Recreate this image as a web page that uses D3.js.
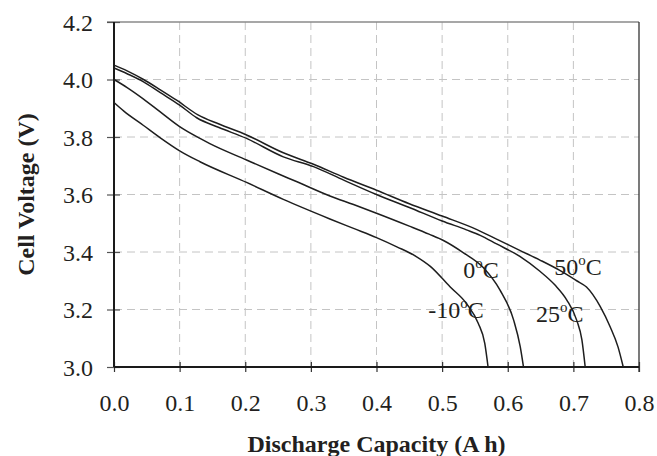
<!DOCTYPE html>
<html><head><meta charset="utf-8">
<script src="https://cdn.jsdelivr.net/npm/d3@7/dist/d3.min.js"></script>
<style>
html,body{margin:0;padding:0;background:#fff;}
svg{display:block;}
text{font-family:"Liberation Serif","Times New Roman",serif;fill:#231f20;}
</style></head>
<body>
<svg id="chart" width="657" height="456"></svg>
<script>
// ---- data ----
const xTicks = [0.0, 0.1, 0.2, 0.3, 0.4, 0.5, 0.6, 0.7, 0.8];
const yTicks = [3.0, 3.2, 3.4, 3.6, 3.8, 4.0, 4.2];

const cap50 = [0, 0.02, 0.045, 0.07, 0.096, 0.128, 0.16, 0.202, 0.258, 0.304, 0.35, 0.40, 0.45, 0.50, 0.553, 0.583, 0.619, 0.649, 0.68, 0.705, 0.72, 0.741, 0.756, 0.768, 0.776];
const volt50 = [4.05, 4.03, 4.0, 3.965, 3.927, 3.877, 3.845, 3.807, 3.745, 3.705, 3.66, 3.615, 3.568, 3.525, 3.478, 3.445, 3.405, 3.372, 3.335, 3.30, 3.278, 3.21, 3.14, 3.07, 3.0];

const cap25 = [0, 0.02, 0.045, 0.07, 0.10, 0.126, 0.16, 0.202, 0.258, 0.304, 0.35, 0.40, 0.45, 0.50, 0.537, 0.558, 0.583, 0.619, 0.649, 0.672, 0.69, 0.705, 0.713, 0.718];
const volt25 = [4.04, 4.02, 3.992, 3.955, 3.911, 3.867, 3.833, 3.795, 3.731, 3.697, 3.65, 3.60, 3.555, 3.508, 3.477, 3.458, 3.428, 3.384, 3.333, 3.285, 3.233, 3.163, 3.094, 3.0];

const cap0 = [0, 0.02, 0.045, 0.07, 0.10, 0.131, 0.146, 0.202, 0.25, 0.278, 0.329, 0.365, 0.40, 0.45, 0.48, 0.502, 0.532, 0.563, 0.588, 0.609, 0.619, 0.624];
const volt0 = [4.0, 3.972, 3.932, 3.888, 3.836, 3.795, 3.777, 3.72, 3.672, 3.645, 3.595, 3.565, 3.535, 3.49, 3.462, 3.44, 3.398, 3.345, 3.268, 3.163, 3.071, 3.0];

const capM10 = [0, 0.015, 0.045, 0.07, 0.10, 0.131, 0.202, 0.258, 0.329, 0.365, 0.40, 0.431, 0.46, 0.482, 0.512, 0.537, 0.555, 0.565, 0.57];
const voltM10 = [3.92, 3.89, 3.84, 3.798, 3.752, 3.714, 3.642, 3.583, 3.515, 3.482, 3.45, 3.418, 3.385, 3.35, 3.279, 3.221, 3.152, 3.082, 3.0];

const seriesNames = ["50", "25", "0", "-10"];
const seriesCaps = [cap50, cap25, cap0, capM10];
const seriesVolts = [volt50, volt25, volt0, voltM10];
// label anchor points (data units) for the temperature labels
const labelCap = [0.671, 0.643, 0.532, 0.479];
const labelVolt = [3.32, 3.155, 3.31, 3.171];

// ---- chart ----
const svg = d3.select("#chart");
const L = 114, R = 639, T = 22, B = 367;
const x = d3.scaleLinear().domain([0, 0.8]).range([L, R]);
const y = d3.scaleLinear().domain([3.0, 4.2]).range([B, T]);

// gridlines
const grid = svg.append("g");
grid.selectAll("line.v").data(xTicks.slice(1, -1)).enter().append("line")
  .attr("x1", d => x(d)).attr("x2", d => x(d)).attr("y1", T).attr("y2", B)
  .attr("stroke", "#c4c4c4").attr("stroke-width", 1).attr("stroke-dasharray", "8,5");
grid.selectAll("line.h").data(yTicks.slice(1, -1)).enter().append("line")
  .attr("x1", L).attr("x2", R).attr("y1", d => y(d)).attr("y2", d => y(d))
  .attr("stroke", "#c4c4c4").attr("stroke-width", 1).attr("stroke-dasharray", "8,5");

// frame: top (gray), right (dark)
svg.append("line").attr("x1", L - 7).attr("x2", R).attr("y1", T).attr("y2", T)
  .attr("stroke", "#8a8a8a").attr("stroke-width", 1.5);
svg.append("line").attr("x1", R).attr("x2", R).attr("y1", T).attr("y2", B + 5)
  .attr("stroke", "#333").attr("stroke-width", 1.3);

// axes
const xAxis = svg.append("g").attr("transform", `translate(0,${B})`)
  .call(d3.axisBottom(x).tickValues(xTicks).tickFormat(d3.format(".1f")).tickSize(5).tickPadding(22));
xAxis.select(".domain").remove();
xAxis.selectAll(".tick line").attr("y1", -5).attr("y2", 5).attr("stroke", "#333").attr("stroke-width", 1.2);
xAxis.selectAll(".tick text").attr("font-size", 24).attr("font-family", "Liberation Serif").attr("fill", "#231f20");

const yAxis = svg.append("g").attr("transform", `translate(${L},0)`)
  .call(d3.axisLeft(y).tickValues(yTicks).tickFormat(d3.format(".1f")).tickSize(7).tickPadding(14));
yAxis.select(".domain").remove();
yAxis.selectAll(".tick line").attr("x1", -7).attr("x2", 6).attr("stroke", "#555").attr("stroke-width", 1.2);
yAxis.selectAll(".tick text").attr("font-size", 24).attr("font-family", "Liberation Serif").attr("fill", "#231f20").attr("dy", "0.34em");

svg.append("line").attr("x1", L).attr("x2", L).attr("y1", T).attr("y2", B)
  .attr("stroke", "#1a1a1a").attr("stroke-width", 2);
svg.append("line").attr("x1", L).attr("x2", R).attr("y1", B).attr("y2", B)
  .attr("stroke", "#1a1a1a").attr("stroke-width", 2);

// curves
const line = d3.line().x(d => x(d[0])).y(d => y(d[1])).curve(d3.curveMonotoneX);
seriesNames.forEach((n, i) => {
  const pts = seriesCaps[i].map((c, j) => [c, seriesVolts[i][j]]);
  svg.append("path").datum(pts).attr("d", line)
    .attr("fill", "none").attr("stroke", "#1e1e1e").attr("stroke-width", 1.5);
});

// temperature labels
seriesNames.forEach((n, i) => {
  const t = svg.append("text").attr("x", x(labelCap[i])).attr("y", y(labelVolt[i]))
    .attr("font-size", 24).attr("text-anchor", "start");
  t.append("tspan").text(n);
  t.append("tspan").attr("font-size", 15).attr("dy", -10).text("o");
  t.append("tspan").attr("dy", 10).text("C");
});

// axis titles
svg.append("text").attr("x", (L + R) / 2).attr("y", 452)
  .attr("text-anchor", "middle").attr("font-size", 24).attr("font-weight", "bold")
  .text("Discharge Capacity (A h)");
svg.append("text").attr("transform", `translate(34,${(T + B) / 2}) rotate(-90)`)
  .attr("text-anchor", "middle").attr("font-size", 24).attr("font-weight", "bold")
  .text("Cell Voltage (V)");
</script>
</body></html>
